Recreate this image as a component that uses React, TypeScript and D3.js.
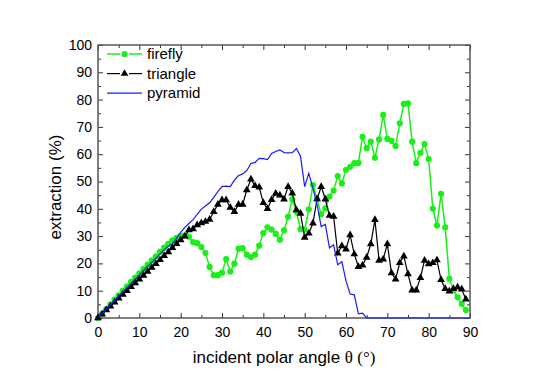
import React, { useRef, useEffect } from "react";
import * as d3 from "d3";

// angle grid (deg)
const anglesMarked = d3.range(0, 90); // 0..89
const anglesPyramid = d3.range(0, 91); // 0..90

const firefly = [
  0, 1.6, 3.3, 5.0, 6.7, 8.3, 10.0, 11.6, 13.2, 14.8,
  16.4, 18.0, 19.6, 21.1, 22.6, 24.3, 25.8, 27.2, 28.4, 29.4,
  30.1, 30.3, 29.8, 27.8, 27.4, 26.0, 23.8, 18.7, 15.7, 15.7,
  16.6, 21.6, 17.0, 19.9, 25.4, 25.6, 23.2, 22.3, 23.2, 26.5,
  31.1, 33.2, 32.4, 30.8, 28.7, 32.1, 37.1, 43.5, 38.9, 32.6,
  32.4, 39.8, 48.7, 43.5, 38.0, 40.2, 44.5, 46.7, 52.0, 49.3,
  54.3, 55.4, 56.7, 56.8, 66.4, 62.2, 64.6, 58.7, 65.4, 74.4,
  65.6, 64.9, 63.0, 71.3, 78.4, 78.6, 64.6, 56.7, 60.5, 63.7,
  58.2, 40.1, 33.9, 45.5, 33.2, 14.4, 10.2, 7.6, 5.2, 2.9,
];

const triangle = [
  0, 1.4, 2.9, 4.3, 5.8, 7.2, 8.6, 10.0, 11.4, 12.8,
  14.2, 15.6, 17.0, 18.5, 19.9, 21.3, 22.8, 24.2, 25.7, 27.2,
  28.6, 29.9, 32.2, 32.6, 34.1, 34.8, 35.3, 36.1, 38.9, 41.6,
  43.2, 43.2, 40.5, 38.9, 41.6, 41.6, 46.9, 50.8, 48.4, 47.9,
  42.2, 40.0, 43.3, 45.6, 45.0, 43.5, 48.1, 45.7, 39.6, 38.3,
  29.5, 31.0, 34.7, 43.6, 48.1, 43.5, 37.5, 37.2, 23.7, 26.4,
  25.2, 30.4, 23.4, 18.8, 19.3, 22.2, 27.1, 36.0, 21.1, 21.5,
  27.1, 16.5, 14.2, 20.2, 22.6, 16.1, 10.2, 10.2, 14.7, 21.1,
  19.8, 20.2, 21.2, 14.0, 10.7, 9.8, 10.7, 11.3, 10.5, 6.9,
];

const pyramid = [
  0, 1.6, 3.2, 4.8, 6.4, 8.0, 9.6, 11.1, 12.7, 14.3,
  15.8, 17.4, 18.9, 20.4, 21.9, 23.4, 24.9, 26.3, 27.2, 29.2,
  31.4, 33.2, 34.6, 36.0, 38.0, 39.9, 41.0, 42.2, 44.2, 46.3,
  48.1, 48.3, 48.1, 50.5, 52.2, 52.8, 54.0, 56.6, 57.0, 58.5,
  58.4, 58.0, 60.3, 61.0, 61.6, 60.6, 60.5, 60.6, 62.1, 59.3,
  48.1, 53.0, 47.6, 41.5, 33.5, 34.3, 25.7, 26.8, 19.5, 20.6,
  13.6, 8.8, 8.5, 1.5, 1.8, 0, 0, 0, 0, 0,
  0, 0, 0, 0, 0, 0, 0, 0, 0, 0,
  0, 0, 0, 0, 0, 0, 0, 0, 0, 0,
  0,
];

const xTicks = [0, 10, 20, 30, 40, 50, 60, 70, 80, 90];
const yTicks = [0, 10, 20, 30, 40, 50, 60, 70, 80, 90, 100];
const legendNames = ["firefly", "triangle", "pyramid"];

function Chart() {
  const ref = useRef<SVGSVGElement>(null);

  useEffect(() => {
    const width = 546;
    const height = 382;
    const m = { top: 45, right: 76, bottom: 64, left: 98 };
    const svg = d3.select(ref.current);
    svg.selectAll("*").remove();

    const x = d3.scaleLinear().domain([0, 90]).range([m.left, width - m.right]);
    const y = d3.scaleLinear().domain([0, 100]).range([height - m.bottom, m.top]);

    const font = "'Liberation Sans', Arial, sans-serif";
    const minorX = d3.range(5, 90, 10);
    const minorY = d3.range(5, 100, 10);

    // axes, ticks pointing inward on all four sides
    const gb = svg.append("g").attr("transform", `translate(0,${y(0)})`);
    gb.call(d3.axisBottom(x).tickValues(xTicks).tickSize(-5).tickPadding(9));
    gb.append("g").call(d3.axisBottom(x).tickValues(minorX).tickSize(-3).tickFormat(() => ""));

    const gl = svg.append("g").attr("transform", `translate(${x(0)},0)`);
    gl.call(d3.axisLeft(y).tickValues(yTicks).tickSize(-5).tickPadding(6));
    gl.append("g").call(d3.axisLeft(y).tickValues(minorY).tickSize(-3).tickFormat(() => ""));

    const gt = svg.append("g").attr("transform", `translate(0,${y(100)})`);
    gt.call(d3.axisTop(x).tickValues(xTicks).tickSize(-5).tickFormat(() => ""));
    gt.append("g").call(d3.axisTop(x).tickValues(minorX).tickSize(-3).tickFormat(() => ""));

    const gr = svg.append("g").attr("transform", `translate(${x(90)},0)`);
    gr.call(d3.axisRight(y).tickValues(yTicks).tickSize(-5).tickFormat(() => ""));
    gr.append("g").call(d3.axisRight(y).tickValues(minorY).tickSize(-3).tickFormat(() => ""));

    svg.selectAll(".domain").remove();
    svg.selectAll(".tick line").attr("stroke", "#333").attr("stroke-width", 1);
    svg.selectAll(".tick text")
      .attr("font-family", font)
      .attr("font-size", 14)
      .attr("fill", "#000");

    svg.append("rect")
      .attr("x", x(0))
      .attr("y", y(100))
      .attr("width", x(90) - x(0))
      .attr("height", y(0) - y(100))
      .attr("fill", "none")
      .attr("stroke", "#555")
      .attr("stroke-width", 1.5);

    const green = "#19ef19";
    const blue = "#1a1aff";

    // firefly
    svg.append("path")
      .datum(firefly)
      .attr("d", d3.line<number>().x((d, i) => x(anglesMarked[i])).y((d) => y(d)))
      .attr("fill", "none")
      .attr("stroke", green)
      .attr("stroke-width", 1.5);
    svg.append("g")
      .selectAll("circle")
      .data(firefly)
      .enter()
      .append("circle")
      .attr("cx", (d, i) => x(anglesMarked[i]))
      .attr("cy", (d) => y(d))
      .attr("r", 3.1)
      .attr("fill", green);

    // triangle
    svg.append("path")
      .datum(triangle)
      .attr("d", d3.line<number>().x((d, i) => x(anglesMarked[i])).y((d) => y(d)))
      .attr("fill", "none")
      .attr("stroke", "#000")
      .attr("stroke-width", 1.2);
    const tri = d3.symbol().type(d3.symbolTriangle).size(26);
    svg.append("g")
      .selectAll("path")
      .data(triangle)
      .enter()
      .append("path")
      .attr("d", tri)
      .attr("transform", (d, i) => `translate(${x(anglesMarked[i])},${y(d)})`)
      .attr("fill", "#000");

    // pyramid
    svg.append("path")
      .datum(pyramid)
      .attr("d", d3.line<number>().x((d, i) => x(anglesPyramid[i])).y((d) => y(d)))
      .attr("fill", "none")
      .attr("stroke", blue)
      .attr("stroke-width", 1.2);

    // legend (line broken around the marker, as in the original)
    const lg = svg.append("g");
    const colors = [green, "#000", blue];
    legendNames.forEach((name, i) => {
      const ly = 54 + i * 19.6;
      const segs = i === 2 ? [[107, 142]] : [[107, 120], [129, 142]];
      segs.forEach(([a, b]) => {
        lg.append("line")
          .attr("x1", a).attr("x2", b)
          .attr("y1", ly).attr("y2", ly)
          .attr("stroke", colors[i])
          .attr("stroke-width", i === 0 ? 1.5 : 1.2);
      });
      if (i === 0) {
        lg.append("circle").attr("cx", 124.5).attr("cy", ly).attr("r", 3.1).attr("fill", green);
      } else if (i === 1) {
        lg.append("path").attr("d", tri).attr("transform", `translate(124.5,${ly})`).attr("fill", "#000");
      }
      lg.append("text")
        .attr("x", 147)
        .attr("y", ly + 5)
        .attr("font-family", font)
        .attr("font-size", 15)
        .text(name);
    });

    // axis titles
    const xt = svg.append("text")
      .attr("x", 284)
      .attr("y", 363)
      .attr("text-anchor", "middle")
      .attr("font-family", font)
      .attr("font-size", 17);
    xt.append("tspan").text("incident polar angle ");
    xt.append("tspan").attr("font-family", "'Liberation Serif', serif").text("θ (°)");

    svg.append("text")
      .attr("transform", `translate(61,187) rotate(-90)`)
      .attr("text-anchor", "middle")
      .attr("font-family", font)
      .attr("font-size", 17)
      .text("extraction (%)");
  }, []);

  return <svg ref={ref} width={546} height={382} style={{ display: "block" }}></svg>;
}

export default function App() {
  return (
    <div style={{ margin: -8 }}>
      <Chart />
    </div>
  );
}
